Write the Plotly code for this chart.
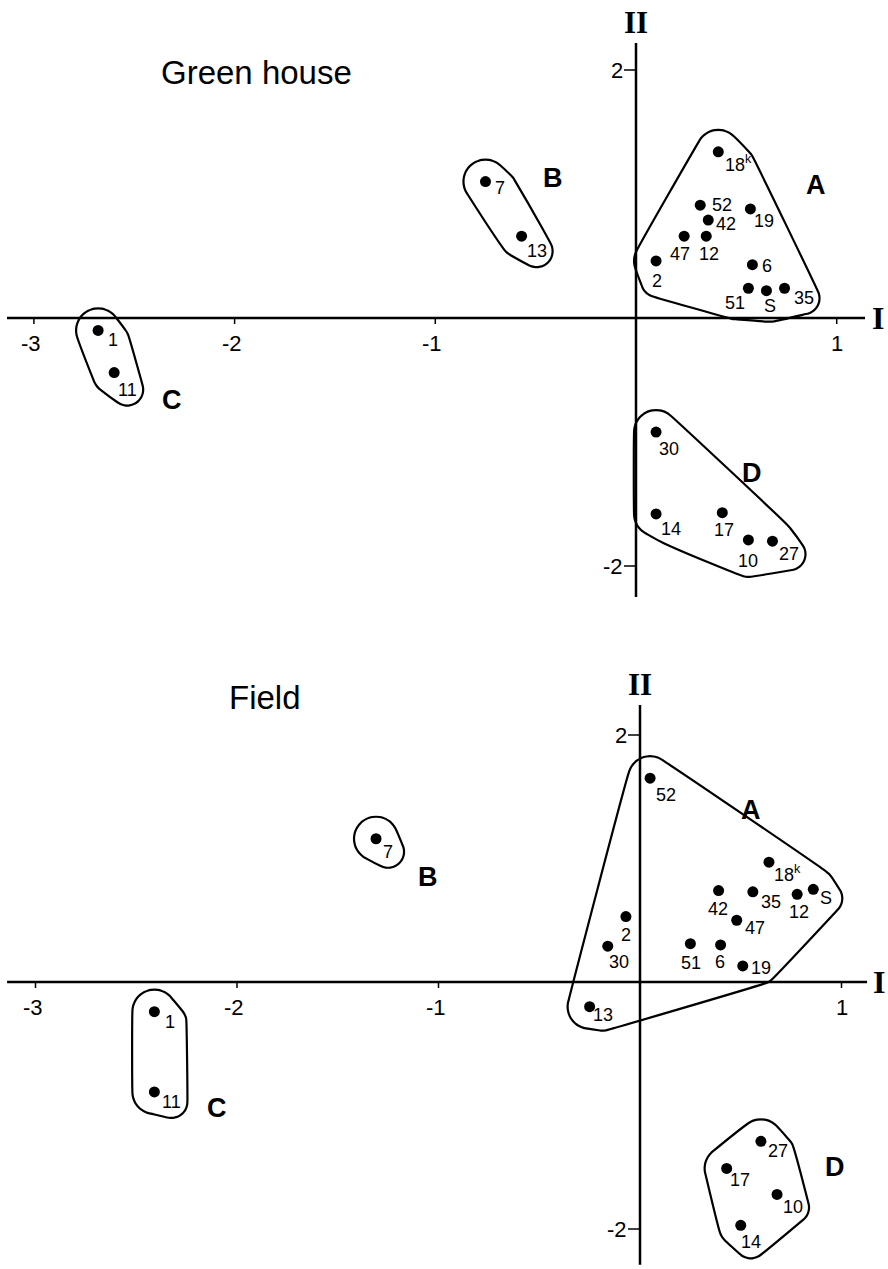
import numpy as np
import plotly.graph_objects as go

# ---- data (axis I, axis II) ----
# Green house
gh_names = ["1", "11", "7", "13", "18<sup>k</sup>", "52", "42", "19", "47", "12",
            "2", "6", "51", "S", "35", "30", "14", "17", "10", "27"]
gh_x = [-2.68, -2.60, -0.75, -0.57, 0.41, 0.32, 0.36, 0.57, 0.24, 0.35,
        0.10, 0.58, 0.56, 0.65, 0.74, 0.10, 0.10, 0.43, 0.56, 0.68]
gh_y = [-0.10, -0.44, 1.10, 0.66, 1.34, 0.91, 0.79, 0.88, 0.66, 0.66,
        0.46, 0.43, 0.24, 0.22, 0.24, -0.92, -1.58, -1.57, -1.79, -1.80]
gh_group = ["C", "C", "B", "B", "A", "A", "A", "A", "A", "A",
            "A", "A", "A", "A", "A", "D", "D", "D", "D", "D"]

# Field
fd_names = ["7", "1", "11", "52", "18<sup>k</sup>", "42", "35", "12", "S", "47",
            "2", "30", "51", "6", "19", "13", "27", "17", "10", "14"]
fd_x = [-1.31, -2.41, -2.41, 0.05, 0.64, 0.39, 0.56, 0.78, 0.86, 0.48,
        -0.07, -0.16, 0.25, 0.40, 0.51, -0.25, 0.60, 0.43, 0.68, 0.50]
fd_y = [1.16, -0.24, -0.89, 1.65, 0.97, 0.74, 0.73, 0.71, 0.75, 0.50,
        0.53, 0.29, 0.31, 0.30, 0.13, -0.20, -1.29, -1.51, -1.72, -1.97]
fd_group = ["B", "C", "C", "A", "A", "A", "A", "A", "A", "A",
            "A", "A", "A", "A", "A", "A", "D", "D", "D", "D"]

x_ticks = [-3, -2, -1, 1]
y_ticks = [2, -2]

# label offset from its dot, in pixels (right, down)
gh_off = [(15, 10), (13, 17), (15, 6), (15, 15), (20, 12), (22, 0), (18, 4), (14, 12),
          (-4, 18), (3, 18), (1, 20), (15, 1), (-13, 15), (4, 15), (19, 10),
          (13, 17), (15, 15), (2, 17), (0, 21), (17, 13)]
fd_off = [(12, 13), (16, 10), (17, 10), (16, 17), (19, 11), (-1, 18), (18, 10), (2, 18),
          (13, 9), (18, 8), (0, 18), (11, 16), (1, 19), (-1, 17), (18, 2), (13, 8),
          (17, 10), (13, 12), (16, 13), (10, 17)]

FONT = "Liberation Sans"
SERIF = "Liberation Serif"
W, H = 888, 1269

# px per unit and where the origin sits on the page, per panel
panels = [
    dict(names=gh_names, x=gh_x, y=gh_y, group=gh_group, off=gh_off,
         ox=636, oy=318, sx=200.7, sy=124.0, top=0, bottom=620,
         title="Green house", title_xy=(-1.89, 1.98),
         hline=(-3.134, 1.141), vline=(2.218, -2.25), I_x=1.206, II_y=2.387,
         letters={"A": (0.897, 1.073), "B": (-0.414, 1.129), "C": (-2.312, -0.661), "D": (0.578, -1.25)}),
    dict(names=fd_names, x=fd_x, y=fd_y, group=fd_group, off=fd_off,
         ox=640, oy=982, sx=201.5, sy=123.5, top=622, bottom=H,
         title="Field", title_xy=(-1.86, 2.30),
         hline=(-3.141, 1.127), vline=(2.243, -2.29), I_x=1.186, II_y=2.405,
         letters={"A": (0.551, 1.393), "B": (-1.052, 0.85), "C": (-2.099, -1.02), "D": (0.968, -1.498)}),
]


def convex_hull(points):
    pts = sorted(set(points))

    def cross(o, a, b):
        return (a[0] - o[0]) * (b[1] - o[1]) - (a[1] - o[1]) * (b[0] - o[0])

    lower, upper = [], []
    for p in pts:
        while len(lower) >= 2 and cross(lower[-2], lower[-1], p) <= 0:
            lower.pop()
        lower.append(p)
    for p in reversed(pts):
        while len(upper) >= 2 and cross(upper[-2], upper[-1], p) <= 0:
            upper.pop()
        upper.append(p)
    return lower[:-1] + upper[:-1]


def outline(xs, ys, offs, sx, sy, pad_dot=22, pad_lab=16):
    # rounded hull around the dots and their number labels
    t = np.linspace(0, 2 * np.pi, 40, endpoint=False)
    pts = []
    for x, y, (dx, dy) in zip(xs, ys, offs):
        for cx, cy, r in [(x, y, pad_dot), (x + dx / sx, y - dy / sy, pad_lab)]:
            pts += [(round(cx + r / sx * np.cos(a), 5), round(cy + r / sy * np.sin(a), 5)) for a in t]
    h = convex_hull(pts)
    h.append(h[0])
    return [p[0] for p in h], [p[1] for p in h]


fig = go.Figure()
layout = dict(width=W, height=H, margin=dict(l=0, r=0, t=0, b=0, pad=0),
              plot_bgcolor="white", paper_bgcolor="white", showlegend=False)
annotations = []
shapes = []

for i, p in enumerate(panels):
    k = "" if i == 0 else str(i + 1)
    xa, ya = "x" + k, "y" + k
    fx0, fy0 = p["ox"], p["oy"]
    layout["xaxis" + k] = dict(range=[-fx0 / p["sx"], (W - fx0) / p["sx"]], domain=[0, 1],
                               visible=False, anchor=ya, fixedrange=True)
    layout["yaxis" + k] = dict(range=[(fy0 - p["bottom"]) / p["sy"], (fy0 - p["top"]) / p["sy"]],
                               domain=[1 - p["bottom"] / H, 1 - p["top"] / H],
                               visible=False, anchor=xa, fixedrange=True)

    # axes
    shapes.append(dict(type="line", xref=xa, yref=ya, x0=p["hline"][0], x1=p["hline"][1], y0=0, y1=0,
                       line=dict(color="black", width=2.5)))
    shapes.append(dict(type="line", xref=xa, yref=ya, x0=0, x1=0, y0=p["vline"][0], y1=p["vline"][1],
                       line=dict(color="black", width=2.5)))
    for t in x_ticks:
        shapes.append(dict(type="line", xref=xa, yref=ya, x0=t, x1=t, y0=0, y1=-6 / p["sy"],
                           line=dict(color="black", width=1.5)))
        annotations.append(dict(x=t, y=0, xref=xa, yref=ya, text=str(t), showarrow=False,
                                yshift=-25, xshift=-3 if t < 0 else 0,
                                font=dict(family=FONT, size=22, color="black")))
    for t in y_ticks:
        shapes.append(dict(type="line", xref=xa, yref=ya, x0=0, x1=-12 / p["sx"], y0=t, y1=t,
                           line=dict(color="black", width=1.5)))
        annotations.append(dict(x=-12 / p["sx"], y=t, xref=xa, yref=ya, text=str(t),
                                showarrow=False, xanchor="right", xshift=1,
                                font=dict(family=FONT, size=22, color="black")))
    annotations.append(dict(x=p["I_x"], y=0, xref=xa, yref=ya, text="<b>I</b>", showarrow=False,
                            font=dict(family=SERIF, size=32, color="black")))
    annotations.append(dict(x=0, y=p["II_y"], xref=xa, yref=ya, text="<b>II</b>", showarrow=False,
                            font=dict(family=SERIF, size=31, color="black")))
    annotations.append(dict(x=p["title_xy"][0], y=p["title_xy"][1], xref=xa, yref=ya, text=p["title"],
                            showarrow=False, font=dict(family=FONT, size=33, color="black")))

    # group outlines and letters
    for g in ["A", "B", "C", "D"]:
        idx = [j for j, gg in enumerate(p["group"]) if gg == g]
        hx, hy = outline([p["x"][j] for j in idx], [p["y"][j] for j in idx],
                         [p["off"][j] for j in idx], p["sx"], p["sy"])
        fig.add_trace(go.Scatter(x=hx, y=hy, xaxis=xa, yaxis=ya, mode="lines",
                                 line=dict(color="black", width=2.2, shape="spline", smoothing=1.0),
                                 hoverinfo="skip"))
        lx, ly = p["letters"][g]
        annotations.append(dict(x=lx, y=ly, xref=xa, yref=ya, text="<b>" + g + "</b>", showarrow=False,
                                font=dict(family=FONT, size=27, color="black")))

    # the points and their numbers
    fig.add_trace(go.Scatter(x=p["x"], y=p["y"], xaxis=xa, yaxis=ya, mode="markers",
                             marker=dict(color="black", size=11), hoverinfo="skip"))
    for x, y, name, (dx, dy) in zip(p["x"], p["y"], p["names"], p["off"]):
        annotations.append(dict(x=x, y=y, xref=xa, yref=ya, text=name, showarrow=False,
                                xshift=dx, yshift=-dy,
                                font=dict(family=FONT, size=18, color="black")))

layout["annotations"] = annotations
layout["shapes"] = shapes
fig.update_layout(**layout)

# drop the page's default body margin so the figure fills the window exactly
fig.write_html("out.html", config={"displayModeBar": False},
               post_script="document.body.style.margin='0';document.body.style.overflow='hidden';")
